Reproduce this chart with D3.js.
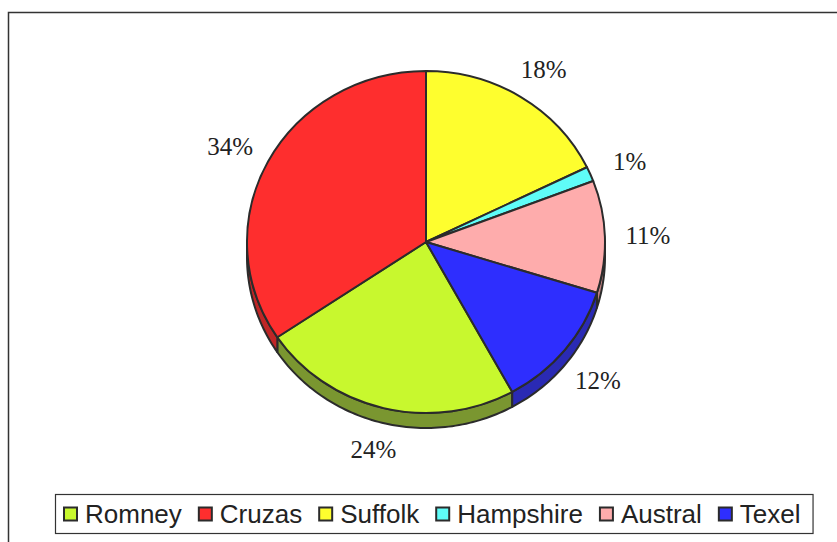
<!DOCTYPE html>
<html>
<head>
<meta charset="utf-8">
<script src="https://cdn.jsdelivr.net/npm/d3@7/dist/d3.min.js"></script>
<style>
  html, body { margin: 0; padding: 0; background: #fff; }
  svg { display: block; }
</style>
</head>
<body>
<svg id="chart" width="837" height="542"></svg>
<script>
// Sheep breed shares (percent of flock)
const categories = ["Romney", "Cruzas", "Suffolk", "Hampshire", "Austral", "Texel"];
const shares = [23.6, 34.4, 17.8, 1.4, 10.6, 12.2];
const topColors = ["#c8f82e", "#fe2e2e", "#fefe2e", "#5ffcf8", "#feacac", "#2e2efe"];
const sideColors = ["#7a9630", "#bf2626", "#bfbf22", "#3fbcb8", "#bf8080", "#2a2ab4"];

const W = 837, H = 542;
const svg = d3.select("#chart");

// frame
svg.append("rect")
  .attr("x", 8.5).attr("y", 12.5)
  .attr("width", W + 10).attr("height", H + 10)
  .attr("fill", "#fff").attr("stroke", "#333").attr("stroke-width", 1.5);

// pie geometry (slightly tilted 3-D disc)
const cx = 426, cy = 242, rx = 179, ry = 171, depth = 15;
const firstSliceAngle = 151.2 * Math.PI / 180;
const outline = "#2b2b2b";

const pie = d3.pie().sort(null).value(d => d.value)
  .startAngle(firstSliceAngle).endAngle(firstSliceAngle + 2 * Math.PI);
const data = categories.map((c, i) => ({ name: c, value: shares[i], top: topColors[i], side: sideColors[i] }));
const arcs = pie(data);
const total = d3.sum(shares);
const pct = d3.format(".0%");

const ex = a => cx + rx * Math.sin(a);
const ey = a => cy - ry * Math.cos(a);

// front walls: only the part of each slice facing the viewer
const sides = svg.append("g");
const frontRanges = [[Math.PI / 2, 3 * Math.PI / 2], [Math.PI / 2 + 2 * Math.PI, 3 * Math.PI / 2 + 2 * Math.PI]];
arcs.forEach(a => {
  frontRanges.forEach(([f0, f1]) => {
    const a0 = Math.max(a.startAngle, f0), a1 = Math.min(a.endAngle, f1);
    if (a1 <= a0) return;
    const n = Math.max(4, Math.ceil((a1 - a0) / 0.02));
    const angs = d3.range(n + 1).map(k => a0 + (a1 - a0) * k / n);
    const pts = angs.map(t => [ex(t), ey(t)])
      .concat(angs.slice().reverse().map(t => [ex(t), ey(t) + depth]));
    sides.append("path")
      .attr("d", d3.line()(pts) + "Z")
      .attr("fill", a.data.side)
      .attr("stroke", outline).attr("stroke-width", 2).attr("stroke-linejoin", "round");
  });
});

// top faces
const arcGen = d3.arc().innerRadius(0).outerRadius(rx);
const topG = svg.append("g").attr("transform", `translate(${cx},${cy}) scale(1,${ry / rx})`);
topG.selectAll("path").data(arcs).join("path")
  .attr("d", arcGen)
  .attr("fill", d => d.data.top)
  .attr("stroke", outline).attr("stroke-width", 2)
  .attr("stroke-linejoin", "round")
  .attr("vector-effect", "non-scaling-stroke");

// percentage labels outside the disc
const gx = 43, gy = 33;
svg.append("g").selectAll("text").data(arcs).join("text")
  .attr("x", d => {
    const m = (d.startAngle + d.endAngle) / 2;
    return cx + (rx + gx) * Math.sin(m);
  })
  .attr("y", d => {
    const m = (d.startAngle + d.endAngle) / 2;
    const c = Math.cos(m);
    return cy - (ry + gy) * c + (c < 0 ? depth * 0.6 : 0);
  })
  .attr("dy", "0.35em")
  .attr("text-anchor", "middle")
  .attr("font-family", "'Liberation Serif', 'Times New Roman', serif")
  .attr("font-size", 25)
  .attr("fill", "#222")
  .text(d => pct(d.data.value / total));

// legend
const legend = svg.append("g");
const box = legend.append("rect")
  .attr("fill", "#fff").attr("stroke", "#333").attr("stroke-width", 1.2);
const sw = 13, swGap = 8, itemGap = 17, legY = 514;
let x = 64;
const items = legend.selectAll("g.item").data(data).join("g").attr("class", "item");
items.each(function (d) {
  const g = d3.select(this);
  g.append("rect")
    .attr("x", x).attr("y", legY - sw / 2)
    .attr("width", sw).attr("height", sw)
    .attr("fill", d.top).attr("stroke", outline).attr("stroke-width", 2);
  const t = g.append("text")
    .attr("x", x + sw + swGap).attr("y", legY)
    .attr("dy", "0.36em")
    .attr("font-family", "'Liberation Sans', Arial, sans-serif")
    .attr("font-size", 26)
    .attr("fill", "#222")
    .text(d.name);
  x += sw + swGap + t.node().getComputedTextLength() + itemGap;
});
const legRight = x - itemGap + 12;
box.attr("x", 55.5).attr("y", 494.5).attr("width", legRight - 55).attr("height", 39);
</script>
</body>
</html>
